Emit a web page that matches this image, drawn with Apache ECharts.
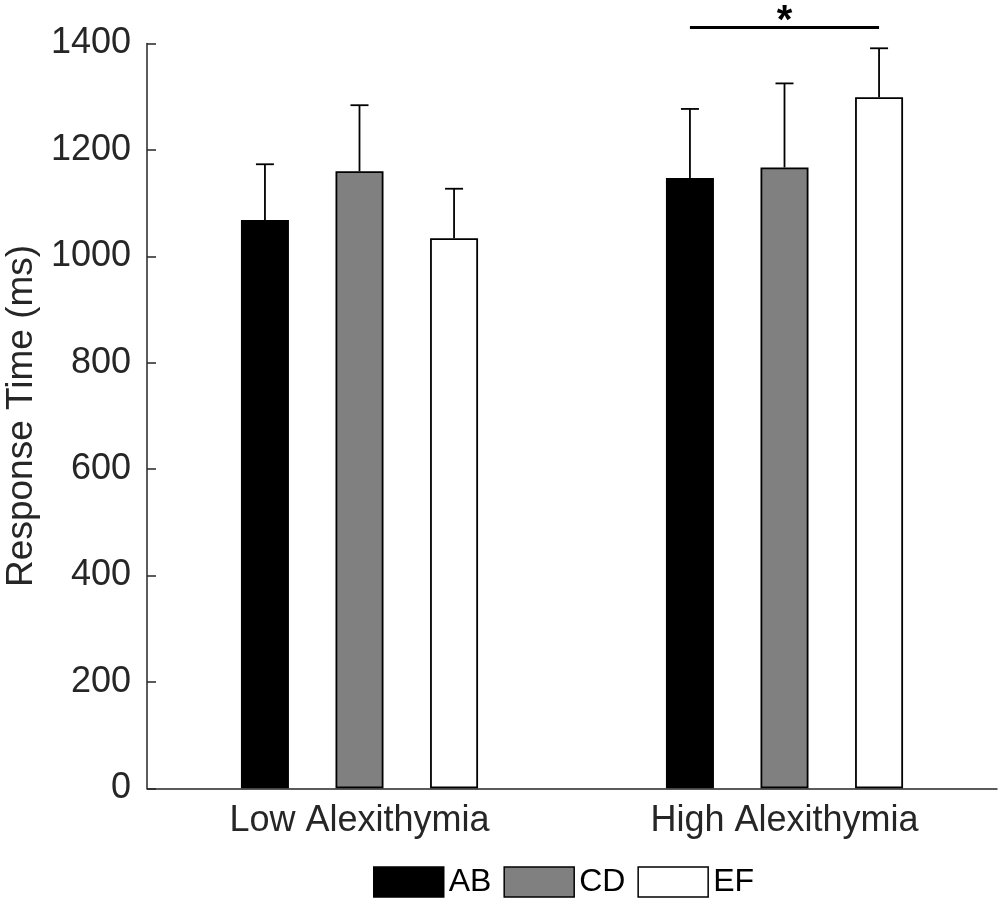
<!DOCTYPE html>
<html>
<head>
<meta charset="utf-8">
<script src="https://cdn.jsdelivr.net/npm/echarts@6/dist/echarts.min.js"></script>
<style>
html,body{margin:0;padding:0;background:#fff;}
#chart{width:1000px;height:900px;}
</style>
</head>
<body>
<div id="chart"></div>
<script>
const categories = ['Low Alexithymia', 'High Alexithymia'];
const seriesNames = ['AB', 'CD', 'EF'];
const meanAB = [1068, 1147];
const meanCD = [1160, 1167];
const meanEF = [1034, 1299];
const errAB = [1173, 1277];
const errCD = [1284, 1325];
const errEF = [1127, 1391];
const yTicks = [0, 200, 400, 600, 800, 1000, 1200, 1400];
// significance bracket: from series index 0 to series index 2 in category 1
const sigCategory = 1;
const sigFrom = 0;
const sigTo = 2;
const sigLevel = 1430;
const sigLabel = '*';
const sigLabelLevel = 1440;

const means = [meanAB, meanCD, meanEF];
const errs = [errAB, errCD, errEF];
const colors = ['#000000', '#808080', '#ffffff'];

const BAR_W = 48;
const BAR_GAP = 0.97;
const STEP = BAR_W * (1 + BAR_GAP);
const CAP = 9;
const AX = '#262626';
const FONT = 'Liberation Sans, Arial, sans-serif';

const chart = echarts.init(document.getElementById('chart'), null, {renderer: 'canvas'});

const barSeries = seriesNames.map((name, i) => ({
  name: name,
  type: 'bar',
  data: means[i],
  barWidth: BAR_W,
  barGap: (BAR_GAP * 100) + '%',
  itemStyle: {color: colors[i], borderColor: '#000', borderWidth: 1.8},
  emphasis: {disabled: true},
  z: 2
}));

const errSeries = seriesNames.map((name, i) => ({
  type: 'custom',
  name: name + '_err',
  data: means[i].map((m, k) => [k, m, errs[i][k]]),
  renderItem: function (params, api) {
    const base = api.coord([api.value(0), api.value(1)]);
    const top = api.coord([api.value(0), api.value(2)]);
    const x = base[0] + (i - 1) * STEP;
    return {
      type: 'group',
      children: [
        {type: 'line', shape: {x1: x, y1: base[1], x2: x, y2: top[1]}, style: {stroke: '#000', lineWidth: 1.8}},
        {type: 'line', shape: {x1: x - CAP, y1: top[1], x2: x + CAP, y2: top[1]}, style: {stroke: '#000', lineWidth: 1.8}}
      ]
    };
  },
  z: 3,
  silent: true
}));

const sigSeries = {
  type: 'custom',
  name: 'sig',
  data: [[sigCategory, sigLevel, sigLabelLevel]],
  clip: false,
  renderItem: function (params, api) {
    const p = api.coord([api.value(0), api.value(1)]);
    const pl = api.coord([api.value(0), api.value(2)]);
    const x1 = p[0] + (sigFrom - 1) * STEP;
    const x2 = p[0] + (sigTo - 1) * STEP;
    return {
      type: 'group',
      children: [
        {type: 'line', shape: {x1: x1, y1: p[1], x2: x2, y2: p[1]}, style: {stroke: '#000', lineWidth: 3}},
        {type: 'text', style: {text: sigLabel, x: (x1 + x2) / 2, y: pl[1], align: 'center', verticalAlign: 'middle', font: 'bold 40px ' + FONT, fill: '#000'}}
      ]
    };
  },
  z: 4,
  silent: true
};

chart.setOption({
  animation: false,
  backgroundColor: '#fff',
  grid: {left: 147, right: 3, top: 43.5, bottom: 111.7, containLabel: false, outerBoundsMode: 'none'},
  legend: {
    data: seriesNames,
    left: 373,
    top: 866,
    padding: 0,
    itemWidth: 70,
    itemHeight: 30,
    itemGap: 12,
    icon: 'rect',
    selectedMode: false,
    itemStyle: {borderColor: '#000', borderWidth: 1.5},
    textStyle: {fontSize: 32, color: '#000', fontFamily: FONT, padding: [0, 0, 0, 0]}
  },
  xAxis: {
    type: 'category',
    data: categories,
    axisLine: {lineStyle: {color: AX, width: 1.5}},
    axisTick: {show: false},
    axisLabel: {fontSize: 36, color: AX, fontFamily: FONT, margin: 15}
  },
  yAxis: {
    type: 'value',
    min: yTicks[0],
    max: yTicks[yTicks.length - 1],
    interval: yTicks[1] - yTicks[0],
    name: 'Response Time (ms)',
    nameLocation: 'middle',
    nameGap: 107,
    nameTextStyle: {fontSize: 37, color: AX, fontFamily: FONT},
    axisLine: {show: true, lineStyle: {color: AX, width: 1.5}},
    axisTick: {show: true, inside: true, length: 9, lineStyle: {color: AX, width: 1.5}},
    splitLine: {show: false},
    axisLabel: {fontSize: 36, color: AX, fontFamily: FONT, margin: 16, formatter: function (v) { return String(v); }}
  },
  series: barSeries.concat(errSeries).concat([sigSeries])
});
</script>
</body>
</html>
